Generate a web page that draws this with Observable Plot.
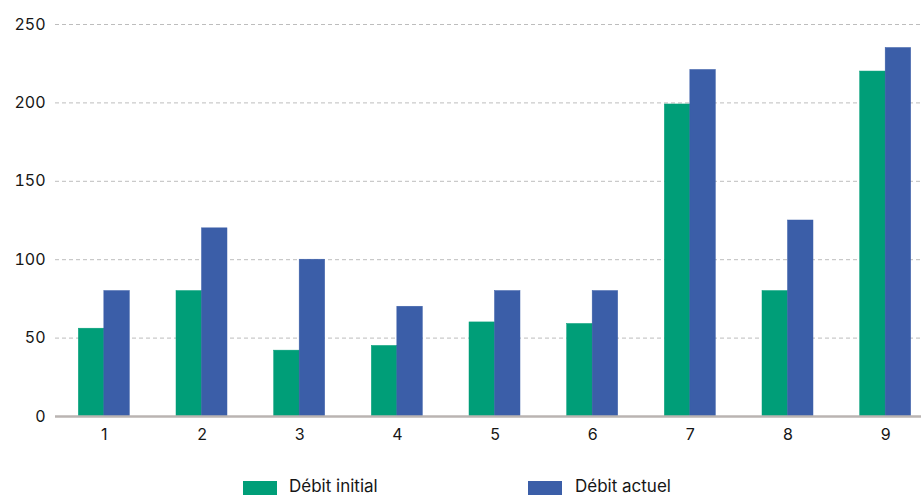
<!DOCTYPE html>
<html>
<head>
<meta charset="utf-8">
<script src="https://cdn.jsdelivr.net/npm/d3@7"></script>
<script src="https://cdn.jsdelivr.net/npm/@observablehq/plot@0.6"></script>
<style>
  html, body { margin: 0; padding: 0; background: #fff; overflow: hidden; width: 921px; height: 495px; }
  #chart { position: absolute; left: 0; top: 0; width: 934px; }
  #chart svg { max-width: none !important; }
  .legend { position: absolute; font-family: Inter, "Open Sans", sans-serif; font-size: 17px; color: #161616; }
  .sw { position: absolute; width: 34px; height: 16px; }
</style>
</head>
<body>
<div id="chart"></div>
<div class="sw" style="left:243px; top:481px; background:#009e78;"></div>
<div class="legend" style="left:289px; top:476px;">Débit initial</div>
<div class="sw" style="left:528px; top:481px; background:#3b5ea8;"></div>
<div class="legend" style="left:575px; top:476px;">Débit actuel</div>
<script>
const categories = ["1","2","3","4","5","6","7","8","9"];
const debitInitial = [56, 80, 42, 45, 60, 59, 199, 80, 220];
const debitActuel = [80, 120, 100, 70, 80, 80, 221, 125, 235];
const yTicks = [0, 50, 100, 150, 200, 250];
const seriesNames = ["Débit initial", "Débit actuel"];
const colors = ["#009e78", "#3b5ea8"];

const initialData = categories.map((c, i) => ({cat: c, value: debitInitial[i]}));
const actuelData = categories.map((c, i) => ({cat: c, value: debitActuel[i]}));

const barW = 25.5;
const plot = Plot.plot({
  width: 934,
  height: 460,
  marginLeft: 55,
  marginRight: 0,
  marginTop: 24,
  marginBottom: 44,
  style: {fontFamily: "Inter, 'Open Sans', sans-serif", fontSize: "16px", color: "#161616", background: "#fff", maxWidth: "none"},
  x: {domain: categories, round: false, paddingInner: 0.739, paddingOuter: 0.3695, label: null, tickSize: 0, tickPadding: 12},
  y: {domain: [0, 250], ticks: yTicks, label: null, tickSize: 0, tickPadding: 10},
  marks: [
    Plot.gridY(yTicks.filter(t => t > 0), {stroke: "#bdbdbd", strokeOpacity: 1, strokeDasharray: "4,3"}),
    Plot.barY(initialData, {x: "cat", y: "value", fill: colors[0], stroke: colors[0], strokeWidth: 0.5, dx: -barW / 2}),
    Plot.barY(actuelData, {x: "cat", y: "value", fill: colors[1], stroke: colors[1], strokeWidth: 0.5, dx: barW / 2}),
    Plot.ruleY([0], {stroke: "#bab4b2", strokeWidth: 2.5})
  ]
});
plot.style.maxWidth = "none";
document.getElementById("chart").appendChild(plot);
</script>
</body>
</html>
